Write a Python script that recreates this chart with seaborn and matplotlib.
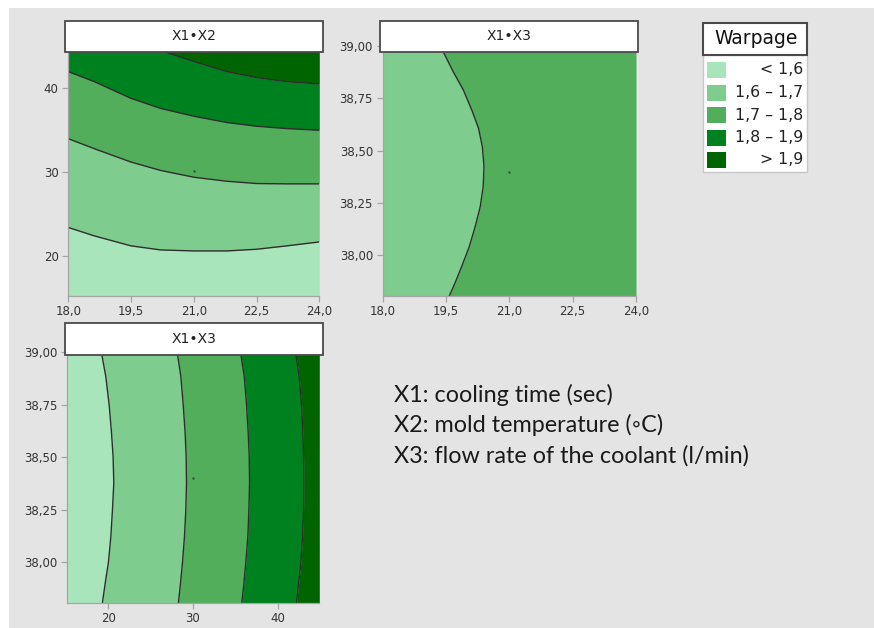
import numpy as np
import matplotlib.pyplot as plt
import seaborn as sns
from matplotlib.patches import Rectangle

# warpage classes and their greens
classes = ['< 1,6', '1,6 – 1,7', '1,7 – 1,8', '1,8 – 1,9', '> 1,9']
greens = ['#a8e5bb', '#7fcd8e', '#52ae5b', '#00811f', '#006400']

# panel X1*X2: contour borders (X2 value) along X1
p1_x = [18.0, 18.62, 19.5, 20.21, 21.0, 21.79, 22.5, 23.22, 24.0]
p1_b16 = [23.39, 22.39, 21.20, 20.72, 20.60, 20.60, 20.80, 21.20, 21.67]
p1_b17 = [33.94, 32.75, 31.16, 30.16, 29.36, 28.88, 28.61, 28.57, 28.57]
p1_b18 = [41.91, 40.72, 38.73, 37.53, 36.61, 35.86, 35.42, 35.14, 34.94]
p1_b19 = [47.0, 46.2, 45.2, 44.4, 43.11, 41.91, 41.20, 40.72, 40.44]
p1_center = (21.0, 30.15)

# panel X1*X3 (top right): one border (X1 value) along X3
p2_y = [37.807, 37.866, 37.946, 38.041, 38.137, 38.232, 38.328, 38.424,
        38.519, 38.607, 38.694, 38.790, 38.877, 38.970, 39.121]
p2_b17 = [19.58, 19.71, 19.87, 20.05, 20.19, 20.31, 20.38, 20.40,
          20.36, 20.27, 20.11, 19.91, 19.67, 19.44, 19.0]
p2_center = (21.0, 38.40)

# panel X1*X3 (bottom): four borders along the vertical axis
p3_y = [37.807, 37.898, 38.0, 38.121, 38.248, 38.376, 38.5, 38.615,
        38.75, 38.885, 38.989, 39.14]
p3_b16 = [19.29, 19.61, 20.00, 20.28, 20.47, 20.63, 20.55, 20.36,
          20.08, 19.68, 19.21, 18.6]
p3_b17 = [28.28, 28.52, 28.76, 28.99, 29.15, 29.23, 29.19, 29.07,
          28.84, 28.56, 28.17, 27.6]
p3_b18 = [35.78, 36.02, 36.25, 36.49, 36.61, 36.69, 36.65, 36.53,
          36.33, 36.06, 35.66, 35.1]
p3_b19 = [42.25, 42.49, 42.76, 42.96, 43.08, 43.12, 43.08, 43.00,
          42.84, 42.56, 42.17, 41.6]
p3_center = (30.0, 38.40)

notes = ['X1: cooling time (sec)', 'X2: mold temperature (◦C)',
         'X3: flow rate of the coolant (l/min)']

sns.set_style('ticks')
plt.rcParams['font.family'] = ['DejaVu Sans']

W, H = 874, 628
fig = plt.figure(figsize=(W / 100, H / 100), dpi=100)
fig.patch.set_facecolor('#e4e4e4')
bg = '#e4e4e4'
line_c = '#2e2e2e'


def frac(x0, y0, x1, y1):
    return [x0 / W, 1 - y1 / H, (x1 - x0) / W, (y1 - y0) / H]


def style_axes(ax):
    ax.set_facecolor(bg)
    for s in ['top', 'right']:
        ax.spines[s].set_visible(False)
    for s in ['left', 'bottom']:
        ax.spines[s].set_color('#a5a5a5')
        ax.spines[s].set_linewidth(0.9)
    ax.tick_params(colors='#a5a5a5', labelcolor='#333333', labelsize=8.5,
                   length=4, width=0.9, pad=3)
    ax.set_xlabel('')
    ax.set_ylabel('')


def title_box(x0, y0, x1, y1, text):
    fig.add_artist(Rectangle((x0 / W, 1 - y1 / H), (x1 - x0) / W, (y1 - y0) / H,
                             transform=fig.transFigure, facecolor='white',
                             edgecolor='#4a4a4a', lw=1.3, zorder=5))
    fig.text((x0 + x1) / 2 / W, 1 - (y0 + y1) / 2 / H, text, ha='center',
             va='center', fontsize=10, color='#222222', zorder=6)


# ---- panel 1 ----
ax1 = fig.add_axes(frac(68.3, 20.7, 319.3, 295.7))
y1lim = (15.28, 47.96)
bands = [y1lim[0], p1_b16, p1_b17, p1_b18, p1_b19, y1lim[1]]
for i in range(5):
    ax1.fill_between(p1_x, bands[i], bands[i + 1], color=greens[i], lw=0)
for b in [p1_b16, p1_b17, p1_b18, p1_b19]:
    sns.lineplot(x=p1_x, y=b, ax=ax1, color=line_c, lw=1.0,
                 estimator=None, sort=False)
sns.scatterplot(x=[p1_center[0]], y=[p1_center[1]], ax=ax1, s=3,
                color='#335533', linewidth=0)
ax1.set_xlim(18, 24)
ax1.set_ylim(*y1lim)
ax1.set_xticks([18, 19.5, 21, 22.5, 24])
ax1.set_xticklabels(['18,0', '19,5', '21,0', '22,5', '24,0'])
ax1.set_yticks([20, 30, 40])
ax1.set_yticklabels(['20', '30', '40'])
style_axes(ax1)
title_box(65, 20.7, 323.3, 52.3, 'X1•X2')

# ---- panel 2 ----
ax2 = fig.add_axes(frac(382.7, 20.7, 636, 295.7))
ax2.fill_betweenx(p2_y, 18, p2_b17, color=greens[1], lw=0)
ax2.fill_betweenx(p2_y, p2_b17, 24, color=greens[2], lw=0)
sns.lineplot(x=p2_b17, y=p2_y, ax=ax2, color=line_c, lw=1.0,
             estimator=None, sort=False, orient='y')
sns.scatterplot(x=[p2_center[0]], y=[p2_center[1]], ax=ax2, s=3,
                color='#335533', linewidth=0)
ax2.set_xlim(18, 24)
ax2.set_ylim(37.807, 39.121)
ax2.set_xticks([18, 19.5, 21, 22.5, 24])
ax2.set_xticklabels(['18,0', '19,5', '21,0', '22,5', '24,0'])
ax2.set_yticks([38.0, 38.25, 38.5, 38.75, 39.0])
ax2.set_yticklabels(['38,00', '38,25', '38,50', '38,75', '39,00'])
style_axes(ax2)
title_box(380, 20.7, 638.3, 52.3, 'X1•X3')

# ---- panel 3 ----
ax3 = fig.add_axes(frac(67.3, 323.3, 319.3, 602.5))
x3lim = (15.13, 44.94)
cols = [x3lim[0], p3_b16, p3_b17, p3_b18, p3_b19, x3lim[1]]
for i in range(5):
    ax3.fill_betweenx(p3_y, cols[i], cols[i + 1], color=greens[i], lw=0)
for b in [p3_b16, p3_b17, p3_b18, p3_b19]:
    sns.lineplot(x=b, y=p3_y, ax=ax3, color=line_c, lw=1.0,
                 estimator=None, sort=False, orient='y')
sns.scatterplot(x=[p3_center[0]], y=[p3_center[1]], ax=ax3, s=3,
                color='#335533', linewidth=0)
ax3.set_xlim(*x3lim)
ax3.set_ylim(37.807, 39.138)
ax3.set_xticks([20, 30, 40])
ax3.set_xticklabels(['20', '30', '40'])
ax3.set_yticks([38.0, 38.25, 38.5, 38.75, 39.0])
ax3.set_yticklabels(['38,00', '38,25', '38,50', '38,75', '39,00'])
style_axes(ax3)
title_box(65, 323.3, 323.3, 355, 'X1•X3')

# ---- legend ----
fig.add_artist(Rectangle((702.7 / W, 1 - 171.7 / H), 104.6 / W, 116.7 / H,
                         transform=fig.transFigure, facecolor='white',
                         edgecolor='#c8c8c8', lw=1.0, zorder=4))
fig.add_artist(Rectangle((702.7 / W, 1 - 55 / H), 104.6 / W, 32.3 / H,
                         transform=fig.transFigure, facecolor='white',
                         edgecolor='#4a4a4a', lw=1.5, zorder=5))
fig.text(756 / W, 1 - 38.5 / H, 'Warpage', ha='center', va='center',
         fontsize=13.5, color='#111111', zorder=6)
for i, (lab, c) in enumerate(zip(classes, greens)):
    yc = 70 + 22.5 * i
    fig.add_artist(Rectangle((707 / W, 1 - (yc + 8) / H), 19 / W, 16 / H,
                             transform=fig.transFigure, facecolor=c,
                             edgecolor='none', zorder=6))
    fig.text(803 / W, 1 - yc / H, lab, ha='right', va='center',
             fontsize=11.3, color='#222222', zorder=6)

# ---- variable notes ----
for i, t in enumerate(notes):
    fig.text(394 / W, 1 - (402 + 30.3 * i) / H, t, ha='left', va='baseline',
             fontsize=16.8, color='#1a1a1a', family=['Lato', 'DejaVu Sans'])

# white strips at the top and left edge
fig.add_artist(Rectangle((0, 1 - 8 / H), 1, 8 / H, transform=fig.transFigure,
                         facecolor='white', edgecolor='none', zorder=0))
fig.add_artist(Rectangle((0, 0), 9 / W, 1, transform=fig.transFigure,
                         facecolor='white', edgecolor='none', zorder=0))

fig.savefig('out.png', dpi=100, facecolor=fig.get_facecolor())
